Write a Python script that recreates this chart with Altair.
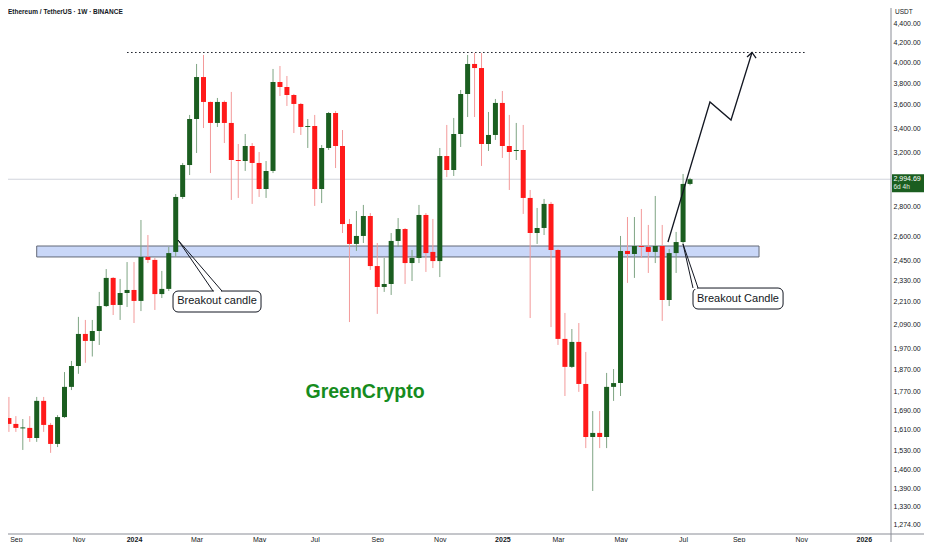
import altair as alt
import pandas as pd

# ---------------- data ----------------
week_dates = [d.strftime("%Y-%m-%dT00:00:00") for d in pd.date_range("2023-08-28", periods=99, freq="7D")]
opens = [1657,1633,1615,1617,1577,1729,1629,1554,1661,1790,
         1885,2041,2006,2056,2187,2345,2193,2259,2276,2215,
         2470,2452,2253,2282,2501,2866,3102,3477,3858,3627,
         3443,3627,3443,3141,3133,3252,3118,2923,3057,3811,
         3764,3690,3609,3409,3417,2923,3236,3529,3252,2680,
         2551,2602,2734,2415,2293,2310,2570,2647,2433,2464,
         2741,2501,2445,3172,3064,3350,3699,3985,3945,3268,
         3342,3618,3252,3212,3220,2859,2621,2654,2817,2513,
         2016,1881,2001,1803,1581,1597,1581,1790,1807,2507,
         2488,2538,2532,2501,2538,2220,2494,2563,2960]
highs = [1746,1665,1653,1665,1746,1746,1637,1669,1857,1909,
         2129,2113,2113,2265,2397,2350,2339,2439,2439,2707,
         2608,2464,2386,2532,2887,3118,3512,3985,4075,3630,
         3663,3640,3718,3268,3350,3276,3204,3133,3936,3965,
         3868,3700,3618,3477,3512,3260,3538,3547,3383,2714,
         2768,2810,2754,2557,2464,2621,2720,2654,2513,2810,
         2754,2714,3236,3426,3486,3736,4075,4095,4095,3538,
         3654,3727,3512,3443,3426,2916,2789,2852,2831,2520,
         2150,2066,2097,1952,1686,1686,1853,1871,2602,2727,
         2727,2782,2674,2873,2674,2519,2628,3034,3005]
lows = [1601,1601,1531,1562,1562,1601,1520,1542,1657,1776,
        1849,1900,1930,1986,2182,2139,2113,2182,2097,2160,
        2433,2166,2231,2270,2470,2852,3026,3196,3400,3041,
        3409,3276,2845,2859,3057,2817,2866,2859,3041,3681,
        3591,3358,3342,3236,2803,2823,3220,3079,2621,2102,
        2507,2557,2392,2145,2265,2248,2532,2310,2327,2433,
        2380,2403,2350,3011,3019,3244,3494,3494,3095,3212,
        3301,3157,2916,3141,2748,2123,2551,2608,2076,1986,
        1750,1876,1768,1538,1383,1538,1538,1729,1750,2316,
        2345,2464,2374,2433,2108,2187,2374,2551,2950]
closes = [1633,1617,1619,1577,1729,1629,1554,1661,1790,1885,
          2041,2006,2056,2187,2345,2193,2259,2276,2215,2470,
          2452,2253,2282,2494,2866,3102,3477,3858,3627,3443,
          3627,3443,3141,3133,3252,3118,2923,3057,3811,3764,
          3690,3609,3409,3417,2923,3236,3529,3252,2680,2551,
          2602,2734,2415,2293,2310,2570,2647,2433,2464,2741,
          2494,2445,3172,3064,3350,3699,3985,3945,3268,3342,
          3618,3252,3204,3220,2859,2621,2654,2817,2513,2016,
          1881,2001,1803,1581,1597,1581,1790,1807,2507,2488,
          2538,2532,2501,2538,2220,2494,2563,2960,2995]

last_price = 2994.69
price_ticks = [4400, 4200, 4000, 3800, 3600, 3400, 3200, 2800, 2600, 2450, 2330,
               2210, 2090, 1970, 1870, 1770, 1690, 1610, 1530, 1460, 1390, 1330, 1274]
month_ticks = [(2023, 9, 4), (2023, 11, 6), (2024, 1, 1), (2024, 3, 4), (2024, 5, 6),
               (2024, 7, 1), (2024, 9, 2), (2024, 11, 4), (2025, 1, 6), (2025, 3, 3),
               (2025, 5, 5), (2025, 7, 7), (2025, 9, 1), (2025, 11, 3), (2026, 1, 5)]

# annotations (in data units)
zone_x = ["2023-09-25T00:00:00", "2025-09-21T12:00:00"]
zone_y = [2538, 2470]
top_x = ["2023-12-25T00:00:00", "2025-11-07T00:00:00"]
top_y = 4100
proj_x = ["2025-06-21T19:00:00", "2025-08-03T02:00:00", "2025-08-24T07:00:00", "2025-09-14T10:00:00"]
proj_y = [2563, 3627, 3468, 4100]
head_x = ["2025-09-09T10:00:00", "2025-09-14T10:00:00", "2025-09-18T12:00:00"]
head_y = [4054, 4100, 4044]

callouts = pd.DataFrame({
    "label": ["Breakout candle", "Breakout Candle"],
    "apex_x": ["2024-02-14T07:00:00", "2025-07-06T22:00:00"],
    "apex_y": [2576, 2551],
    "base1_x": ["2024-03-20T14:00:00", "2025-07-17T00:00:00"],
    "base2_x": ["2024-03-29T14:00:00", "2025-07-22T02:00:00"],
    "cover1_x": ["2024-03-21T14:00:00", "2025-07-18T00:00:00"],
    "cover2_x": ["2024-03-28T14:00:00", "2025-07-21T02:00:00"],
    "box_x": ["2024-02-09T07:00:00", "2025-07-17T00:00:00"],
    "box_x2": ["2024-05-07T22:00:00", "2025-10-15T17:00:00"],
    "box_y": [2270, 2287],
    "box_y2": [2155, 2171],
    "text_x": ["2024-03-24T14:00:00", "2025-08-31T07:00:00"],
    "text_y": [2212, 2228],
})
brand_x = "2024-08-20T17:00:00"
brand_y = 1768

# ---------------- styling ----------------
GREEN = "#1b5e20"
GREEN_WICK = "#7fa584"
RED = "#ff1a1a"
RED_WICK = "#f39a9a"
INK = "#131722"
FRAME = "#8a8d96"
W, H = 883, 526
PAD_R, PAD_B = 33, 8

xscale = alt.Scale(domain=[alt.DateTime(year=2023, month=8, date=27, hours=2),
                           alt.DateTime(year=2026, month=2, date=1, hours=10)],
                   padding=0, nice=False)
yscale = alt.Scale(type="log", domain=[1243.1, 4577.9], nice=False, zero=False, padding=0)

xaxis = alt.Axis(
    values=[alt.DateTime(year=y, month=m, date=d) for (y, m, d) in month_ticks],
    labelExpr="month(datum.value) == 0 ? timeFormat(datum.value, '%Y') : timeFormat(datum.value, '%b')",
    labelFontWeight={"condition": {"test": "month(datum.value) == 0", "value": "bold"}, "value": "normal"},
    title=None, domain=False, ticks=False, tickSize=0, grid=False,
    labelFontSize=7, labelColor=INK, labelPadding=1.5, labelFlush=False,
    labelOverlap=False, labelFont="Liberation Sans",
)
yaxis = alt.Axis(
    orient="right", values=price_ticks, format=",.2f", title=None,
    domain=False, ticks=False, tickSize=0, grid=False,
    labelFontSize=7, labelColor=INK, labelPadding=2, labelFlush=False,
    labelOverlap=False, labelFont="Liberation Sans",
)

candles = pd.DataFrame({"date": week_dates, "open": opens, "high": highs,
                        "low": lows, "close": closes})
up = alt.datum.close >= alt.datum.open

X = lambda f: alt.X(f, scale=xscale, axis=xaxis)
Y = lambda f: alt.Y(f, scale=yscale, axis=yaxis)
one = pd.DataFrame({"k": [0]})

price_line = alt.Chart(pd.DataFrame({"p": [last_price]})).mark_rule(
    color="#d1d4dc", strokeWidth=1).encode(y=Y("p:Q"))

zone = alt.Chart(pd.DataFrame({"x": [zone_x[0]], "x2": [zone_x[1]],
                               "y": [zone_y[0]], "y2": [zone_y[1]]})).mark_rect(
    fill="#c9d7f8", stroke="#626876", strokeWidth=1).encode(
    x=X("x:T"), x2="x2:T", y=Y("y:Q"), y2="y2:Q")

top_line = alt.Chart(pd.DataFrame({"x": [top_x[0]], "x2": [top_x[1]], "y": [top_y]})).mark_rule(
    color=INK, strokeWidth=1, strokeDash=[1.5, 2.5]).encode(x=X("x:T"), x2="x2:T", y=Y("y:Q"))

wicks = alt.Chart(candles).mark_rule(strokeWidth=1, clip=True).encode(
    x=X("date:T"), y=Y("low:Q"), y2="high:Q",
    color=alt.condition(up, alt.value(GREEN_WICK), alt.value(RED_WICK)))

bodies = alt.Chart(candles).mark_bar(size=5, clip=True).encode(
    x=X("date:T"), y=Y("open:Q"), y2="close:Q",
    color=alt.condition(up, alt.value(GREEN), alt.value(RED)))

proj = alt.Chart(pd.DataFrame({"x": proj_x, "y": proj_y, "i": range(len(proj_x))})).mark_line(
    color=INK, strokeWidth=1.3).encode(x=X("x:T"), y=Y("y:Q"), order="i:Q")

head = alt.Chart(pd.DataFrame({"x": head_x, "y": head_y, "i": range(len(head_x))})).mark_line(
    color=INK, strokeWidth=1.3).encode(x=X("x:T"), y=Y("y:Q"), order="i:Q")

boxes = alt.Chart(callouts).mark_rect(fill="white", stroke=INK, strokeWidth=1, cornerRadius=5).encode(
    x=X("box_x:T"), x2="box_x2:T", y=Y("box_y:Q"), y2="box_y2:Q")
cover = alt.Chart(callouts).mark_rule(color="white", strokeWidth=2).encode(
    x=X("cover1_x:T"), x2="cover2_x:T", y=Y("box_y:Q"))
wedge1 = alt.Chart(callouts).mark_rule(color=INK, strokeWidth=1).encode(
    x=X("apex_x:T"), x2="base1_x:T", y=Y("apex_y:Q"), y2="box_y:Q")
wedge2 = alt.Chart(callouts).mark_rule(color=INK, strokeWidth=1).encode(
    x=X("apex_x:T"), x2="base2_x:T", y=Y("apex_y:Q"), y2="box_y:Q")
callout_text = alt.Chart(callouts).mark_text(
    fontSize=11, color=INK, font="Liberation Sans", align="center", baseline="middle").encode(
    x=X("text_x:T"), y=Y("text_y:Q"), text="label:N")

brand = alt.Chart(pd.DataFrame({"x": [brand_x], "y": [brand_y], "t": ["GreenCrypto"]})).mark_text(
    fontSize=19.5, fontWeight="bold", color="#168c1e", font="Liberation Sans",
    align="center", baseline="middle").encode(x=X("x:T"), y=Y("y:Q"), text="t:N")

title = alt.Chart(one).mark_text(
    fontSize=6.5, fontWeight="bold", color=INK, font="Liberation Sans", align="left", baseline="top").encode(
    x=alt.value(0), y=alt.value(1), text=alt.value("Ethereum / TetherUS · 1W · BINANCE"))
unit = alt.Chart(one).mark_text(
    fontSize=6.5, color=INK, font="Liberation Sans", align="left", baseline="top").encode(
    x=alt.value(W + 4), y=alt.value(1), text=alt.value("USDT"))

tag_df = pd.DataFrame({"p": [last_price], "t1": [f"{last_price:,.2f}"], "t2": ["6d 4h"]})
tag = alt.Chart(tag_df).mark_rule(color=GREEN, strokeWidth=18, yOffset=4, strokeCap="butt").encode(
    x=alt.value(W + 1), x2=alt.value(W + PAD_R), y=Y("p:Q"))
tag_t1 = alt.Chart(tag_df).mark_text(
    fontSize=7, color="white", font="Liberation Sans", align="left", baseline="middle").encode(
    x=alt.value(W + 2.5), y=Y("p:Q"), text="t1:N")
tag_t2 = alt.Chart(tag_df).mark_text(
    fontSize=6.5, color="#e3efe4", font="Liberation Sans", align="left", baseline="middle", dy=7.5).encode(
    x=alt.value(W + 2.5), y=Y("p:Q"), text="t2:N")

frame_b = alt.Chart(one).mark_rule(color=FRAME, strokeWidth=1).encode(
    x=alt.value(0), x2=alt.value(W + PAD_R), y=alt.value(H))
frame_r = alt.Chart(one).mark_rule(color=FRAME, strokeWidth=1).encode(
    x=alt.value(W), y=alt.value(0), y2=alt.value(H + PAD_B))

chart = alt.layer(
    price_line, zone, top_line, wicks, bodies, proj, head,
    boxes, cover, wedge1, wedge2, callout_text, brand, title, unit,
    tag, tag_t1, tag_t2, frame_b, frame_r,
).properties(
    width=W, height=H,
    padding={"left": 0, "top": 0, "right": PAD_R, "bottom": PAD_B},
    autosize=alt.AutoSizeParams(type="none"),
    background="white",
).configure_view(strokeWidth=0)

chart.save("out.html", embed_options={"renderer": "svg", "actions": False})
